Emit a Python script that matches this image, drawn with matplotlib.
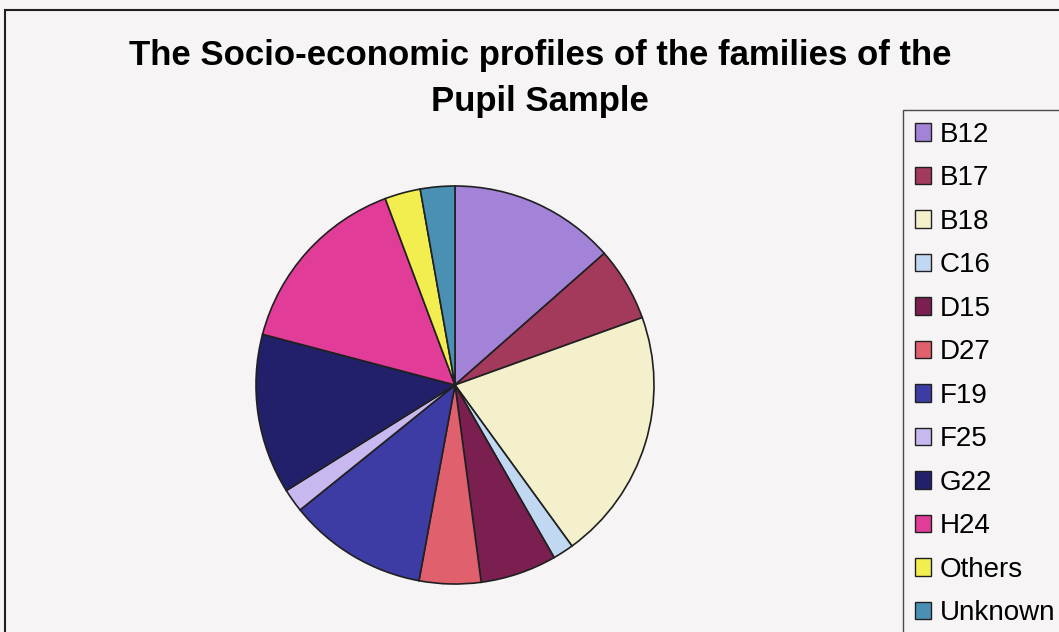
import matplotlib.pyplot as plt
from matplotlib.patches import Patch, Rectangle

plt.rcParams['font.family'] = ['Liberation Sans', 'DejaVu Sans']

# Data (percent of sample)
labels = ['B12', 'B17', 'B18', 'C16', 'D15', 'D27', 'F19', 'F25', 'G22', 'H24', 'Others', 'Unknown']
shares = [13.5, 6.0, 20.5, 1.7, 6.2, 5.0, 11.3, 1.9, 13.0, 15.2, 2.9, 2.8]
colors = ['#a383d8', '#a33a5c', '#f4f0cc', '#c0d8f2', '#7a1f4f', '#e0606e',
          '#3c3ca4', '#c8b8f0', '#22206a', '#e03c98', '#f2ee50', '#4a90b4']

bg = '#f6f4f4'
fig = plt.figure(figsize=(10.59, 6.32), dpi=100, facecolor=bg)

# outer chart frame (runs off the right and bottom edges)
fig.patches.append(Rectangle((5 / 1059, -0.1), 1.2, 1 - 10 / 632 + 0.1,
                             transform=fig.transFigure, fill=False,
                             edgecolor='#202020', linewidth=1.5))

fig.text(540 / 1059, 1 - 56 / 632, 'The Socio-economic profiles of the families of the',
         ha='center', va='center', fontsize=25, fontweight='bold')
fig.text(540 / 1059, 1 - 101 / 632, 'Pupil Sample',
         ha='center', va='center', fontsize=25, fontweight='bold')

ax = fig.add_axes([255 / 1059, 47 / 632, 400 / 1059, 400 / 632])
ax.set_facecolor(bg)
ax.pie(shares, colors=colors, startangle=90, counterclock=False,
       wedgeprops=dict(edgecolor='#202020', linewidth=1.2))
ax.set_xlim(-1.005, 1.005)
ax.set_ylim(-1.005, 1.005)
ax.set_aspect('equal')

handles = [Patch(facecolor=c, edgecolor='#202020', linewidth=1.0) for c in colors]
leg = fig.legend(handles, labels, loc='upper left',
                 bbox_to_anchor=(903 / 1059, 1 - 110 / 632),
                 fontsize=20, frameon=True, fancybox=False,
                 handlelength=0.58, handleheight=0.58, handletextpad=0.32,
                 labelspacing=0.63, borderpad=0.42, borderaxespad=0)
leg.get_frame().set_edgecolor('#202020')
leg.get_frame().set_facecolor(bg)
leg.get_frame().set_linewidth(1.0)

fig.savefig('out.png', dpi=100, facecolor=bg)
